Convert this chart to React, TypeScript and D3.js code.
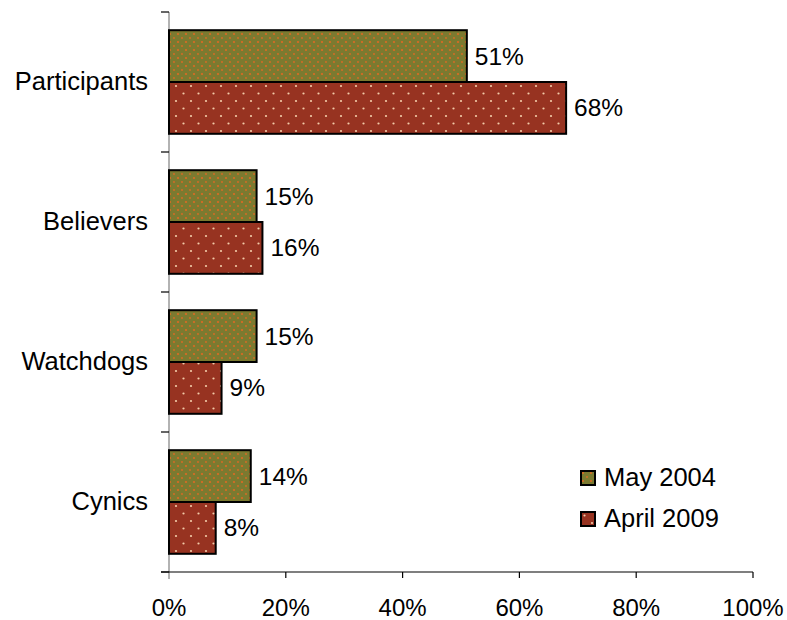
import React from "react";
import * as d3 from "d3";

const categories = ["Participants", "Believers", "Watchdogs", "Cynics"];
const seriesNames = ["May 2004", "April 2009"];
const may2004 = [51, 15, 15, 14];
const april2009 = [68, 16, 9, 8];
const xTicks = [0, 20, 40, 60, 80, 100];

const W = 787;
const H = 620;
const FONT = "'Liberation Sans', Arial, Helvetica, sans-serif";

export default function App() {
  const left = 169;
  const right = 753;
  const top = 12;
  const bottom = 572;

  const x = d3.scaleLinear().domain([0, 100]).range([left, right]);
  const y = d3
    .scaleBand<string>()
    .domain(categories)
    .range([top, bottom])
    .paddingInner(0.26)
    .paddingOuter(0.13);
  const sub = d3
    .scaleBand<string>()
    .domain(seriesNames)
    .range([0, y.bandwidth()])
    .padding(0);

  const series = [
    { name: seriesNames[0], values: may2004, fill: "url(#patGreen)" },
    { name: seriesNames[1], values: april2009, fill: "url(#patRed)" },
  ];

  const step = y.step();
  const boundaries = d3.range(categories.length + 1).map((i) => top + i * step);

  return (
    <svg
      width={W}
      height={H}
      style={{ position: "absolute", left: 0, top: 0, display: "block", background: "#fff" }}
      fontFamily={FONT}
    >
      <defs>
        <pattern id="patGreen" width={8} height={8} patternUnits="userSpaceOnUse">
          <rect width={8} height={8} fill="#7b7a30" />
          <circle cx={2} cy={2} r={1.1} fill="#dd6a22" />
          <circle cx={6} cy={6} r={0.9} fill="#dd6a22" />
        </pattern>
        <pattern id="patRed" width={15} height={15} patternUnits="userSpaceOnUse">
          <rect width={15} height={15} fill="#973321" />
          <circle cx={3.5} cy={3.5} r={1.1} fill="#f3cba8" />
          <circle cx={11} cy={11} r={1.1} fill="#f3cba8" />
        </pattern>
      </defs>

      {/* y axis */}
      <line x1={left} x2={left} y1={top} y2={bottom + 7} stroke="#808080" strokeWidth={1.2} />
      {boundaries.map((b, i) => (
        <line key={"yt" + i} x1={left - 8} x2={left} y1={b} y2={b} stroke="#000" strokeWidth={1.2} />
      ))}

      {/* x axis */}
      <line x1={left - 8} x2={right} y1={bottom} y2={bottom} stroke="#000" strokeWidth={1.2} />
      {xTicks.map((t) => (
        <g key={"xt" + t}>
          {t !== 0 && (
            <line x1={x(t)} x2={x(t)} y1={bottom} y2={bottom + 6} stroke="#000" strokeWidth={1.2} />
          )}
          <text x={x(t)} y={616} textAnchor="middle" fontSize={24} fill="#000">
            {t + "%"}
          </text>
        </g>
      ))}

      {/* category labels */}
      {categories.map((c) => (
        <text
          key={c}
          x={148}
          y={(y(c) as number) + y.bandwidth() / 2 + 7.5}
          textAnchor="end"
          fontSize={25.5}
          fill="#000"
        >
          {c}
        </text>
      ))}

      {/* bars */}
      {series.map((s) =>
        categories.map((c, i) => {
          const by = (y(c) as number) + (sub(s.name) as number);
          const bh = sub.bandwidth();
          const v = s.values[i];
          return (
            <g key={s.name + c}>
              <rect
                x={x(0)}
                y={by}
                width={x(v) - x(0)}
                height={bh}
                fill={s.fill}
                stroke="#000"
                strokeWidth={2}
              />
              <text x={x(v) + 8} y={by + bh / 2 + 8.5} fontSize={24.5} fill="#000">
                {v + "%"}
              </text>
            </g>
          );
        })
      )}

      {/* legend */}
      {series.map((s, i) => (
        <g key={"lg" + s.name} transform={`translate(581, ${471 + i * 41})`}>
          <rect x={0} y={0} width={14} height={14} fill={s.fill} stroke="#000" strokeWidth={2} />
          <text x={23} y={14.5} fontSize={25.5} fill="#000">
            {s.name}
          </text>
        </g>
      ))}
    </svg>
  );
}
